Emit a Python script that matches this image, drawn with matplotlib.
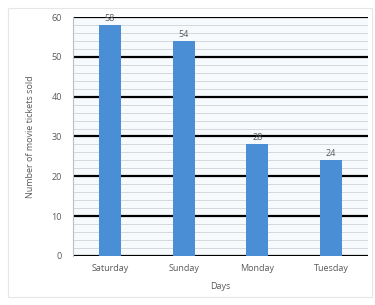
import numpy as np
import matplotlib.pyplot as plt
from matplotlib.patches import Rectangle

days = ['Saturday', 'Sunday', 'Monday', 'Tuesday']
tickets = [58, 54, 28, 24]
y_ticks = [0, 10, 20, 30, 40, 50, 60]

plt.rcParams['font.family'] = ['Open Sans', 'DejaVu Sans']
grey = '#595959'

fig = plt.figure(figsize=(3.75, 3.05), dpi=100)
ax = fig.add_axes([0.195, 0.161, 0.786, 0.783])

# faint frame round the whole chart
fig.patches.append(Rectangle((0.022, 0.025), 0.97, 0.95, transform=fig.transFigure,
                             fill=False, edgecolor='#e6e6e6', linewidth=0.8))

x = np.arange(len(days))
bars = ax.bar(x, tickets, width=0.3, color='#4a8fd6', zorder=3)

for b, v in zip(bars, tickets):
    ax.text(b.get_x() + b.get_width() / 2, v + 0.6, str(v), ha='center', va='bottom',
            fontsize=6.5, color=grey, zorder=4)

ax.set_xlim(-0.5, len(days) - 0.5)
ax.set_ylim(0, 60)
ax.set_yticks(y_ticks)
ax.set_yticks(np.arange(0, 61, 2), minor=True)
ax.set_xticks(x)
ax.set_xticklabels(days)

ax.grid(which='major', axis='y', color='black', linewidth=1.6, zorder=1)
ax.grid(which='minor', axis='y', color='#cfd3d8', linewidth=0.6, zorder=0)
ax.set_facecolor('#f7fafd')

for s in ['top', 'right', 'bottom']:
    ax.spines[s].set_visible(False)
ax.spines['left'].set_color('#bfbfbf')
ax.spines['left'].set_linewidth(0.8)

ax.tick_params(axis='both', which='both', length=0, labelsize=6.5, labelcolor=grey)
ax.tick_params(axis='x', pad=6)
ax.tick_params(axis='y', pad=8)

ax.set_xlabel('Days', fontsize=6.5, color=grey, labelpad=6)
ax.set_ylabel('Number of movie tickets sold', fontsize=6.5, color=grey, labelpad=12)

fig.savefig('out.png', dpi=100)
